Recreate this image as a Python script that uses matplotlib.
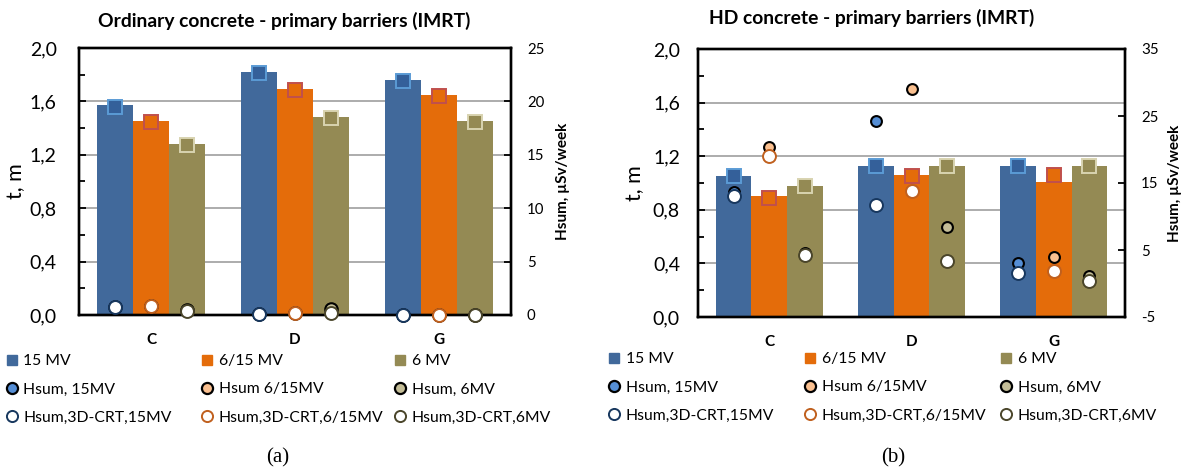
import matplotlib
matplotlib.use("Agg")
import matplotlib.pyplot as plt
import numpy as np
from matplotlib.lines import Line2D
from matplotlib.ticker import FuncFormatter, MultipleLocator

plt.rcParams['font.family'] = ['Lato', 'DejaVu Sans']
plt.rcParams['axes.unicode_minus'] = False

# ---------------- data ----------------
categories = ['C', 'D', 'G']
series_names = ['15 MV', '6/15 MV', '6 MV']
hsum_names = ['Hsum, 15MV', 'Hsum 6/15MV', 'Hsum, 6MV']
crt_names = ['Hsum,3D-CRT,15MV', 'Hsum,3D-CRT,6/15MV', 'Hsum,3D-CRT,6MV']

# (a) ordinary concrete
ord_t_15 = [1.57, 1.82, 1.76]
ord_t_615 = [1.45, 1.69, 1.65]
ord_t_6 = [1.28, 1.48, 1.45]
ord_sq_15 = [1.56, 1.815, 1.755]
ord_sq_615 = [1.445, 1.685, 1.64]
ord_sq_6 = [1.27, 1.475, 1.445]
ord_h_15 = [0.78, 0.06, 0.0]
ord_h_615 = [0.84, 0.16, 0.0]
ord_h_6 = [0.45, 0.6, 0.0]
ord_crt_15 = [0.78, 0.06, 0.0]
ord_crt_615 = [0.84, 0.16, 0.0]
ord_crt_6 = [0.4, 0.16, 0.0]

# (b) HD concrete
hd_t_15 = [1.05, 1.13, 1.13]
hd_t_615 = [0.90, 1.06, 1.01]
hd_t_6 = [0.98, 1.13, 1.13]
hd_sq_15 = [1.05, 1.13, 1.13]
hd_sq_615 = [0.89, 1.05, 1.06]
hd_sq_6 = [0.98, 1.13, 1.13]
hd_h_15 = [13.6, 24.2, 3.1]
hd_h_615 = [20.4, 29.1, 3.9]
hd_h_6 = [4.5, 8.5, 1.1]
hd_crt_15 = [13.0, 11.7, 1.5]
hd_crt_615 = [19.1, 13.8, 1.8]
hd_crt_6 = [4.2, 3.4, 0.4]

# ---------------- styles ----------------
bar_colors = ['#41699B', '#E46C0A', '#948A54']
sq_fill = ['#34609A', '#E46C0A', '#948A54']
sq_edge = ['#5B9BD5', '#C0504D', '#D8D3B0']
hf_fill = ['#558ED5', '#FAC090', '#C4BD97']
open_edge = ['#17375E', '#C0601E', '#4A452A']

W, H = 1187, 472
fig = plt.figure(figsize=(W / 100, H / 100), dpi=100)

comma = FuncFormatter(lambda v, p: f"{v:.1f}".replace('.', ','))


def make_panel(box, t_list, sq_list, h_list, crt_list, r_lim, r_major, title, title_xy,
               filled_size, caption, caption_x, leg_x, leg_y, lpad, rlab_off):
    x0, x1, ytop, ybot = box
    ax = fig.add_axes([x0 / W, 1 - ybot / H, (x1 - x0) / W, (ybot - ytop) / H])
    axw = x1 - x0
    x = np.arange(len(categories))
    bw = 0.25
    offs = [-bw, 0, bw]
    for i in range(3):
        ax.bar(x + offs[i], t_list[i], width=bw, color=bar_colors[i], zorder=2, linewidth=0)
        ax.plot(x + offs[i], sq_list[i], ls='none', marker='s', ms=10, mfc=sq_fill[i],
                mec=sq_edge[i], mew=1.4, zorder=3)
    ax.set_xlim(-0.5, 2.5)
    ax.set_ylim(0, 2.0)
    ax.yaxis.set_major_locator(MultipleLocator(0.4))
    ax.yaxis.set_minor_locator(MultipleLocator(0.2))
    ax.yaxis.set_major_formatter(comma)
    ax.grid(axis='y', which='major', color='#A6A6A6', lw=1.3, zorder=0)
    ax.set_axisbelow(True)
    ax.set_xticks(x)
    ax.set_xticklabels(categories, fontweight='bold', fontsize=11)
    ax.tick_params(axis='x', length=0, pad=13)
    ax.tick_params(axis='y', which='major', direction='in', length=5, width=1.3, labelsize=14, pad=lpad)
    ax.tick_params(axis='y', which='minor', direction='in', length=4, width=1.3)
    for s in ax.spines.values():
        s.set_linewidth(1.7)
        s.set_color('black')
    ax.set_ylabel('t, m', fontsize=15.5)
    ax.yaxis.set_label_coords(-53 / axw, 0.5)

    ax2 = ax.twinx()
    ax2.set_ylim(*r_lim)
    ax2.set_yticks(r_major)
    ax2.tick_params(axis='y', direction='in', length=5, width=1.3, labelsize=10.8, pad=11.5)
    for s in ax2.spines.values():
        s.set_linewidth(1.7)
        s.set_color('black')
    for i in range(3):
        ax2.plot(x + offs[i], h_list[i], ls='none', marker='o', ms=filled_size, mfc=hf_fill[i],
                 mec='black', mew=1.5, zorder=4, clip_on=False)
    for i in range(3):
        ax2.plot(x + offs[i], crt_list[i], ls='none', marker='o', ms=9.3, mfc='white',
                 mec=open_edge[i], mew=1.4, zorder=5, clip_on=False)
    ax2.set_ylabel('Hsum, \u00b5Sv/week', fontsize=11, fontweight='bold')
    ax2.yaxis.set_label_coords(1 + rlab_off / axw, 0.5)

    fig.text(title_xy[0] / W, 1 - title_xy[1] / H, title, ha='center', va='center',
             fontsize=13.9, fontweight='bold')
    fig.text(caption_x / W, 1 - 458 / H, caption, ha='center', va='center',
             fontsize=15, family='Liberation Serif')

    # legends: one column per energy
    for i in range(3):
        handles = [
            Line2D([], [], ls='none', marker='s', ms=6.5, mfc=bar_colors[i], mec=bar_colors[i]),
            Line2D([], [], ls='none', marker='o', ms=8, mfc=hf_fill[i], mec='black', mew=1.6),
            Line2D([], [], ls='none', marker='o', ms=8, mfc='white', mec=open_edge[i], mew=1.4),
        ]
        labels = [series_names[i], hsum_names[i], crt_names[i]]
        fig.legend(handles, labels, loc='upper left',
                   bbox_to_anchor=((leg_x[i] - 7) / W, 1 - leg_y / H),
                   frameon=False, fontsize=11.3, handlelength=0.9, handletextpad=0.3,
                   borderpad=0, borderaxespad=0, labelspacing=0.92)
    return ax, ax2


make_panel((79, 511, 48, 315),
           [ord_t_15, ord_t_615, ord_t_6], [ord_sq_15, ord_sq_615, ord_sq_6],
           [ord_h_15, ord_h_615, ord_h_6], [ord_crt_15, ord_crt_615, ord_crt_6],
           (0, 25), [0, 5, 10, 15, 20, 25],
           'Ordinary concrete - primary barriers (IMRT)', (284, 21), 9.0,
           '(a)', 278, [11.5, 207, 400], 354, 16, 45)

make_panel((698, 1125, 49, 317),
           [hd_t_15, hd_t_615, hd_t_6], [hd_sq_15, hd_sq_615, hd_sq_6],
           [hd_h_15, hd_h_615, hd_h_6], [hd_crt_15, hd_crt_615, hd_crt_6],
           (-5, 35), [-5, 5, 15, 25, 35],
           'HD concrete - primary barriers (IMRT)', (872, 18), 7.8,
           '(b)', 893, [614, 810, 1006], 352, 13, 43)

fig.savefig('out.png', dpi=100)
